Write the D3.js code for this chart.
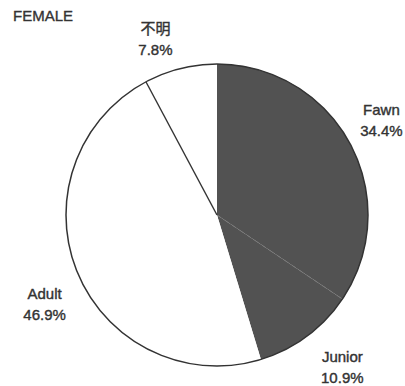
<!DOCTYPE html>
<html><head><meta charset="utf-8">
<script src="https://cdn.jsdelivr.net/npm/d3@7"></script>
<style>body{margin:0;background:#fff;} svg{display:block;}</style>
</head><body>
<svg id="chart" width="405" height="386"></svg>
<script>
const categories = ["Fawn", "Junior", "Adult", "不明"];
const values = [34.4, 10.9, 46.9, 7.8];
const pctLabels = ["34.4%", "10.9%", "46.9%", "7.8%"];
const title = "FEMALE";

const colors = {"Fawn": "#525252", "Junior": "#525252", "Adult": "#ffffff", "不明": "#ffffff"};
const nudges = {"Fawn": [-5, -4.5], "Junior": [11, -2.5], "Adult": [5, 16], "不明": [-15, 10]};

const svg = d3.select("#chart");
const cx = 217, cy = 215, r = 151;
const font = "Arial, 'Liberation Sans', 'Noto Sans CJK JP', sans-serif";

svg.append("text").attr("x", 13).attr("y", 20.5).text(title)
  .attr("font-family", font).attr("font-size", 15).attr("fill", "#333")
  .attr("stroke", "#333").attr("stroke-width", 0.35);

const data = categories.map((c, i) => ({cat: c, value: values[i], pct: pctLabels[i]}));
const pie = d3.pie().sort(null).value(d => d.value);
const arcs = pie(data);
const arc = d3.arc().innerRadius(0).outerRadius(r);
const g = svg.append("g").attr("transform", `translate(${cx},${cy})`);

g.selectAll("path.slice").data(arcs).join("path").attr("class", "slice")
  .attr("d", arc).attr("fill", d => colors[d.data.cat]).attr("stroke", "none");

// radial separators
const radial = a => [Math.sin(a) * r, -Math.cos(a) * r];
arcs.forEach(d => {
  const [x, y] = radial(d.startAngle);
  let stroke = null, dash = null, w = 1.4;
  if (d.data.cat === "不明") { stroke = "#333"; }
  if (d.data.cat === "Junior") { stroke = "#7a7a7a"; dash = "5,4"; w = 1; }
  if (stroke) {
    g.append("line").attr("x1", 0).attr("y1", 0).attr("x2", x).attr("y2", y)
      .attr("stroke", stroke).attr("stroke-width", w).attr("stroke-dasharray", dash);
  }
});

g.append("circle").attr("r", r).attr("fill", "none").attr("stroke", "#333").attr("stroke-width", 1.5);

const labelArc = d3.arc().innerRadius(192).outerRadius(192);
arcs.forEach(d => {
  const [x, y] = labelArc.centroid(d);
  const [nx, ny] = nudges[d.data.cat];
  const t = g.append("text").attr("text-anchor", "middle")
    .attr("font-family", font).attr("font-size", 15).attr("fill", "#333")
    .attr("stroke", "#333").attr("stroke-width", 0.4);
  t.append("tspan").attr("x", x + nx).attr("y", y + ny - 10.5).attr("dy", "0.35em").text(d.data.cat);
  t.append("tspan").attr("x", x + nx).attr("y", y + ny + 10.5).attr("dy", "0.35em").text(d.data.pct);
});
</script>
</body></html>
